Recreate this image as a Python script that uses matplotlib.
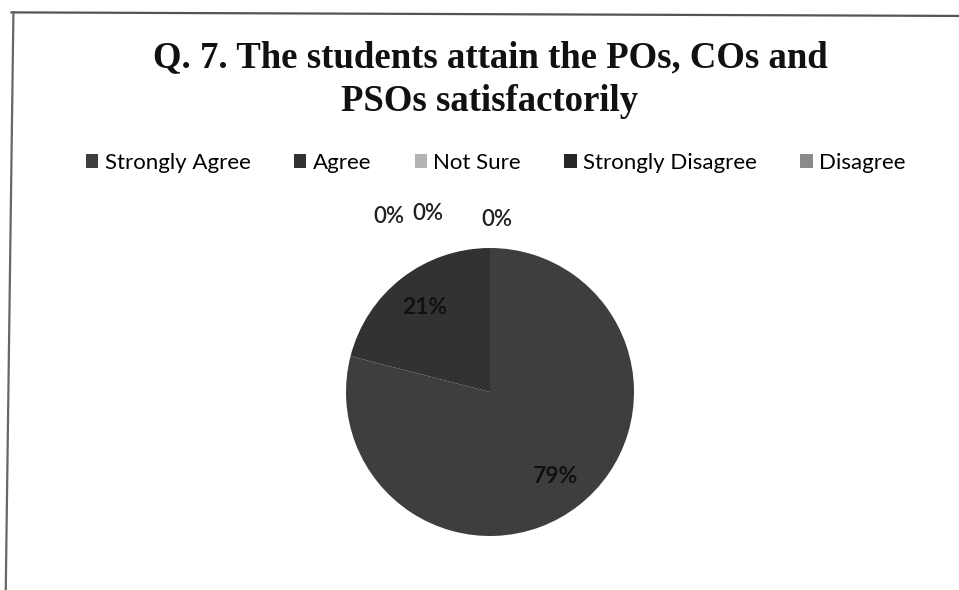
"""Pie chart: Q. 7 - students attain the POs, COs and PSOs satisfactorily."""
import matplotlib
matplotlib.use("Agg")
import matplotlib.pyplot as plt
from matplotlib.lines import Line2D

categories = ["Strongly Agree", "Agree", "Not Sure", "Strongly Disagree", "Disagree"]
percentages = [79, 21, 0, 0, 0]
slice_colors = ["#3e3e3e", "#323232", "#b4b4b4", "#262626", "#8a8a8a"]
title_text = "Q. 7. The students attain the POs, COs and\nPSOs satisfactorily"

# where Excel pushed the labels of the empty slices (data units, radius = 1)
zero_label_pos = {2: (-0.70, 1.22), 3: (-0.43, 1.24), 4: (0.05, 1.20)}

fig = plt.figure(figsize=(9.59, 5.90), dpi=100)
fig.patch.set_facecolor("white")

# scanned frame: top and left edge only
fig.add_artist(Line2D([0.012, 1.0], [0.979, 0.973], transform=fig.transFigure,
                      color="#555555", lw=1.6))
fig.add_artist(Line2D([0.014, 0.006], [0.979, 0.0], transform=fig.transFigure,
                      color="#666666", lw=1.6))

fig.text(0.511, 0.865, title_text, ha="center", va="center",
         family="Liberation Serif", weight="bold", fontsize=26.5,
         linespacing=1.3, color="#111111")

# pie axes: centre at (490, 392) px, radius ~144 px
r_px = 144
cx, cy = 490 / 959, 1 - 392 / 590
w, h = 2 * r_px / 959, 2 * r_px / 590
ax = fig.add_axes([cx - w / 2, cy - h / 2, w, h])
ax.set_aspect("equal")

wedges, texts, autotexts = ax.pie(
    percentages, colors=slice_colors, startangle=90, counterclock=False,
    radius=1.0, autopct=lambda p: f"{p:.0f}%" if p > 0 else "",
    pctdistance=0.74, wedgeprops=dict(linewidth=0),
    textprops=dict(family="Lato", weight="bold", fontsize=16.5, color="#111111"))
ax.set_xlim(-1, 1)
ax.set_ylim(-1, 1)

for i, pct in enumerate(percentages):
    if pct == 0:
        x, y = zero_label_pos[i]
        ax.text(x, y, f"{pct}%", ha="center", va="center", family="Lato",
                weight="semibold", fontsize=16, color="#222222", clip_on=False)

fig.legend(wedges, categories, loc="center", bbox_to_anchor=(0.517, 0.724),
           ncol=5, frameon=False, handlelength=0.55, handleheight=0.55,
           handletextpad=0.3, columnspacing=1.95,
           prop=dict(family="Lato", size=16))

fig.savefig("out.png", dpi=100, facecolor="white")
